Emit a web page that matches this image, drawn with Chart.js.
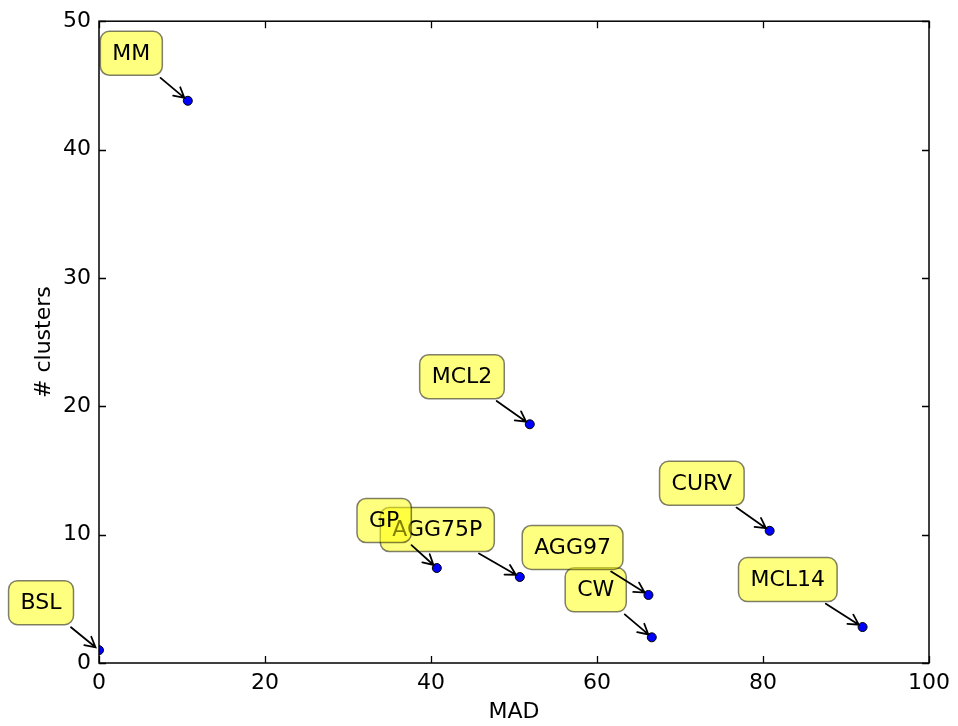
<!DOCTYPE html>
<html>
<head>
<meta charset="utf-8">
<script src="https://cdn.jsdelivr.net/npm/chart.js@4/dist/chart.umd.min.js"></script>
<style>
  html, body { margin: 0; padding: 0; background: #ffffff; }
  #wrap { width: 958px; height: 726px; }
</style>
</head>
<body>
<div id="wrap"><canvas id="c" width="958" height="726"></canvas></div>
<script>
// Clustering methods: mean absolute deviation vs. number of clusters
const methods  = ['BSL', 'MM',  'MCL2', 'AGG75P', 'GP',  'CURV', 'MCL14', 'CW',  'AGG97'];
const madVals  = [0.0,   10.7,  51.9,   50.7,     40.7,  80.8,   92.0,    66.6,  66.2];
const clusters = [1.0,   43.8,  18.6,   6.7,      7.4,   10.3,   2.8,     2.0,   5.3];

const xTicks = [0, 20, 40, 60, 80, 100];
const yTicks = [0, 10, 20, 30, 40, 50];

const FONT = 'DejaVu Sans';
const FS = 22;

const points = methods.map((m, i) => ({ x: madVals[i], y: clusters[i], label: m }));

// Frame with inward ticks on all four sides
const framePlugin = {
  id: 'frame',
  afterDatasetsDraw(chart) {
    const { ctx, chartArea: a, scales } = chart;
    ctx.save();
    ctx.strokeStyle = '#000';
    ctx.lineWidth = 1.3;
    const tl = 7;
    ctx.beginPath();
    xTicks.forEach(v => {
      const px = Math.round(scales.x.getPixelForValue(v)) + 0.5;
      ctx.moveTo(px, a.bottom); ctx.lineTo(px, a.bottom - tl);
      ctx.moveTo(px, a.top); ctx.lineTo(px, a.top + tl);
    });
    yTicks.forEach(v => {
      const py = Math.round(scales.y.getPixelForValue(v)) + 0.5;
      ctx.moveTo(a.left, py); ctx.lineTo(a.left + tl, py);
      ctx.moveTo(a.right, py); ctx.lineTo(a.right - tl, py);
    });
    ctx.stroke();
    ctx.lineWidth = 1.5;
    ctx.strokeRect(a.left, a.top, a.right - a.left, a.bottom - a.top);
    ctx.restore();
  }
};

function roundRect(ctx, x, y, w, h, r) {
  ctx.beginPath();
  ctx.moveTo(x + r, y);
  ctx.lineTo(x + w - r, y);
  ctx.arcTo(x + w, y, x + w, y + r, r);
  ctx.lineTo(x + w, y + h - r);
  ctx.arcTo(x + w, y + h, x + w - r, y + h, r);
  ctx.lineTo(x + r, y + h);
  ctx.arcTo(x, y + h, x, y + h - r, r);
  ctx.lineTo(x, y + r);
  ctx.arcTo(x, y, x + r, y, r);
  ctx.closePath();
}

// Labelled callouts: rounded yellow box up-left of each point, arrow to the point
const calloutPlugin = {
  id: 'callouts',
  afterDraw(chart) {
    const { ctx, scales } = chart;
    ctx.save();
    ctx.font = FS + 'px "' + FONT + '"';
    points.forEach(p => {
      const px = scales.x.getPixelForValue(p.x);
      const py = scales.y.getPixelForValue(p.y);
      const tw = ctx.measureText(p.label).width;
      const padX = 12;
      const bw = tw + 2 * padX;
      const bh = 44;
      const bx = px - 25.5 - bw;
      const by = py - 25.5 - bh;
      const cx = bx + bw / 2, cy = by + bh / 2;

      // arrow from box centre toward the point, clipped at the box edge
      const dx = px - cx, dy = py - cy;
      const len = Math.hypot(dx, dy);
      const ux = dx / len, uy = dy / len;
      const tEdge = Math.min((bw / 2) / Math.abs(dx), (bh / 2) / Math.abs(dy));
      const sx = cx + dx * tEdge + ux * 4;
      const sy = cy + dy * tEdge + uy * 4;
      const ex = px - ux * 4.5, ey = py - uy * 4.5;
      ctx.strokeStyle = '#000';
      ctx.lineWidth = 1.8;
      ctx.lineCap = 'round';
      ctx.beginPath();
      ctx.moveTo(sx, sy); ctx.lineTo(ex, ey);
      const hl = 10, hw = 5.5;
      const bxp = ex - ux * hl, byp = ey - uy * hl;
      ctx.moveTo(bxp - uy * hw, byp + ux * hw);
      ctx.lineTo(ex, ey);
      ctx.lineTo(bxp + uy * hw, byp - ux * hw);
      ctx.stroke();

      // box
      roundRect(ctx, bx, by, bw, bh, 9);
      ctx.fillStyle = 'rgba(255,255,0,0.5)';
      ctx.fill();
      ctx.strokeStyle = 'rgba(0,0,0,0.5)';
      ctx.lineWidth = 1.5;
      ctx.stroke();

      // text
      ctx.fillStyle = '#000';
      ctx.textAlign = 'center';
      ctx.textBaseline = 'alphabetic';
      ctx.fillText(p.label, cx, cy + 6.5);
    });
    ctx.restore();
  }
};

new Chart(document.getElementById('c'), {
  type: 'scatter',
  data: {
    datasets: [{
      data: points,
      backgroundColor: '#0000ff',
      borderColor: '#000000',
      borderWidth: 1,
      pointRadius: 4.5,
      pointHoverRadius: 4.5,
      clip: 0
    }]
  },
  options: {
    responsive: false,
    animation: false,
    devicePixelRatio: 1,
    layout: { padding: { top: 21, right: 29, left: 0, bottom: 0 } },
    plugins: { legend: { display: false }, tooltip: { enabled: false } },
    scales: {
      x: {
        type: 'linear', min: 0, max: 100,
        afterFit(s) { s.height = 63; },
        afterBuildTicks(s) { s.ticks = xTicks.map(v => ({ value: v })); },
        grid: { display: false, drawTicks: false },
        border: { display: false },
        ticks: { color: '#000', font: { family: FONT, size: FS }, padding: 7, maxRotation: 0 },
        title: { display: true, text: 'MAD', color: '#000', font: { family: FONT, size: FS }, padding: { top: 0, bottom: 1 } }
      },
      y: {
        type: 'linear', min: 0, max: 50,
        afterFit(s) { s.width = 99; },
        afterBuildTicks(s) { s.ticks = yTicks.map(v => ({ value: v })); },
        grid: { display: false, drawTicks: false },
        border: { display: false },
        ticks: { color: '#000', font: { family: FONT, size: FS }, padding: 8 },
        title: { display: true, text: '# clusters', color: '#000', font: { family: FONT, size: FS }, padding: { top: 31, bottom: 0 } }
      }
    }
  },
  plugins: [framePlugin, calloutPlugin]
});
</script>
</body>
</html>
